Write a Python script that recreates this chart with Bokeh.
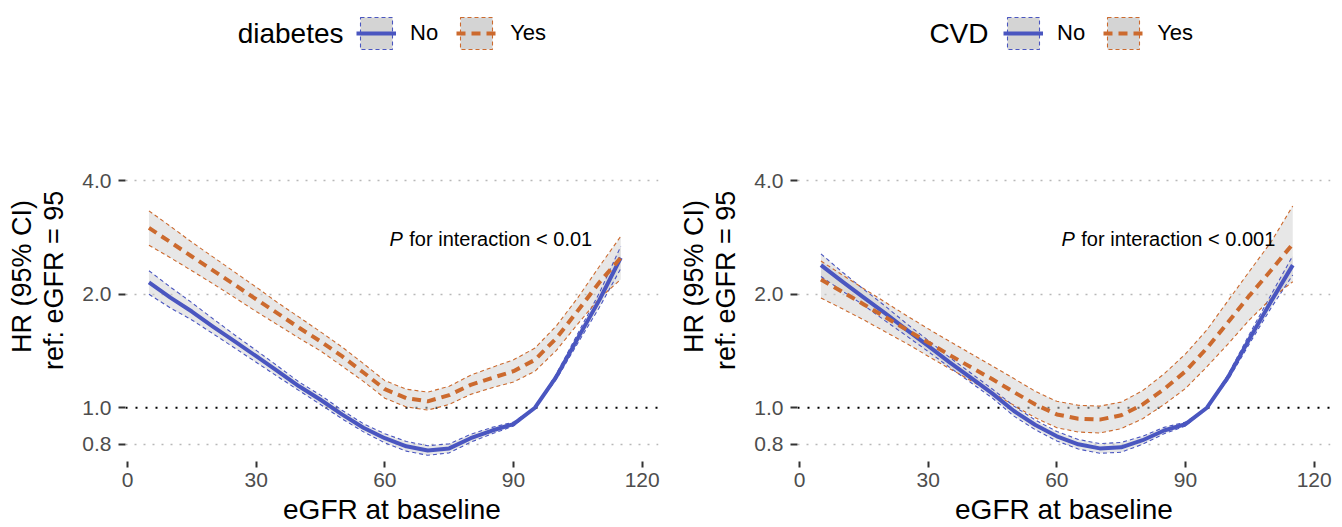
from bokeh.plotting import figure
from bokeh.models import (Range1d, FixedTicker, Span, Label, Legend, LegendItem,
                          ColumnDataSource, PrintfTickFormatter, Title)
from bokeh.layouts import row
from bokeh.embed import file_html
from bokeh.resources import INLINE

# ---------------- data ----------------
egfr = [5, 10, 15, 20, 25, 30, 35, 40, 45, 50, 55, 60,
        65, 70, 75, 80, 85, 90, 95, 100, 105, 110, 115]

# diabetes = No
dm_no_hr = [2.15, 1.96, 1.80, 1.64, 1.50, 1.37, 1.25, 1.14, 1.05, 0.96, 0.885, 0.83,
            0.79, 0.77, 0.78, 0.83, 0.87, 0.905, 1.0, 1.21, 1.53, 1.93, 2.50]
dm_no_lo = [2.00, 1.84, 1.71, 1.57, 1.44, 1.32, 1.21, 1.11, 1.02, 0.935, 0.863, 0.807,
            0.767, 0.748, 0.759, 0.81, 0.853, 0.894, 1.0, 1.19, 1.485, 1.845, 2.34]
dm_no_hi = [2.31, 2.09, 1.90, 1.72, 1.56, 1.42, 1.29, 1.17, 1.08, 0.985, 0.907, 0.853,
            0.814, 0.793, 0.802, 0.85, 0.887, 0.916, 1.0, 1.23, 1.575, 2.015, 2.68]
# diabetes = Yes
dm_yes_hr = [3.00, 2.75, 2.52, 2.31, 2.12, 1.94, 1.78, 1.63, 1.50, 1.37, 1.24, 1.12,
             1.06, 1.04, 1.08, 1.15, 1.20, 1.25, 1.34, 1.53, 1.81, 2.15, 2.50]
dm_yes_lo = [2.70, 2.50, 2.31, 2.13, 1.96, 1.80, 1.66, 1.53, 1.415, 1.29, 1.175, 1.06,
             1.005, 0.986, 1.02, 1.085, 1.13, 1.17, 1.25, 1.42, 1.67, 1.95, 2.19]
dm_yes_hi = [3.33, 3.03, 2.75, 2.51, 2.29, 2.09, 1.90, 1.74, 1.59, 1.45, 1.31, 1.18,
             1.12, 1.10, 1.14, 1.22, 1.28, 1.34, 1.44, 1.65, 1.96, 2.37, 2.85]

# CVD = No
cvd_no_hr = [2.39, 2.16, 1.96, 1.78, 1.61, 1.46, 1.32, 1.20, 1.09, 0.98, 0.90, 0.84,
             0.80, 0.78, 0.785, 0.82, 0.87, 0.905, 1.0, 1.21, 1.53, 1.92, 2.39]
cvd_no_lo = [2.23, 2.04, 1.87, 1.70, 1.55, 1.41, 1.28, 1.165, 1.06, 0.95, 0.874, 0.816,
             0.777, 0.757, 0.762, 0.80, 0.853, 0.894, 1.0, 1.19, 1.485, 1.845, 2.25]
cvd_no_hi = [2.56, 2.29, 2.06, 1.86, 1.67, 1.51, 1.36, 1.235, 1.12, 1.01, 0.927, 0.865,
             0.824, 0.803, 0.809, 0.84, 0.887, 0.916, 1.0, 1.23, 1.575, 2.00, 2.53]
# CVD = Yes
cvd_yes_hr = [2.19, 2.03, 1.88, 1.74, 1.61, 1.49, 1.38, 1.28, 1.19, 1.10, 1.02, 0.96,
              0.935, 0.93, 0.955, 1.02, 1.12, 1.25, 1.44, 1.69, 1.99, 2.32, 2.72]
cvd_yes_lo = [1.955, 1.83, 1.71, 1.59, 1.48, 1.37, 1.27, 1.18, 1.095, 1.015, 0.94, 0.885,
              0.862, 0.857, 0.88, 0.935, 1.02, 1.125, 1.285, 1.48, 1.715, 1.95, 2.16]
cvd_yes_hi = [2.45, 2.25, 2.07, 1.905, 1.755, 1.62, 1.50, 1.39, 1.29, 1.195, 1.105, 1.04,
              1.015, 1.01, 1.035, 1.11, 1.23, 1.39, 1.61, 1.93, 2.31, 2.76, 3.43]

group_labels = ["No", "Yes"]
x_ticks = [0, 30, 60, 90, 120]
y_ticks = [0.8, 1.0, 2.0, 4.0]
grid_ticks = [0.8, 2.0, 4.0]
ref_hr = 1.0

FONT = "Liberation Sans"
BLUE = "#4a56c0"
ORANGE = "#cc6a2e"
BAND = "#cfcfcf"
KEY_FILL = "#d4d4d4"


def make_panel(var_name, no, yes, ptext, border_left, border_right, legend_x, title_x):
    p = figure(width=671, height=527, title=None,
               x_range=Range1d(-0.47, 123.8), y_range=Range1d(0.72, 12.04),
               y_axis_type="log", output_backend="svg", toolbar_location=None,
               min_border_left=border_left, min_border_right=border_right,
               min_border_top=0, min_border_bottom=66)
    p.outline_line_color = None
    p.background_fill_color = "white"
    p.border_fill_color = "white"

    # grid
    p.xgrid.visible = False
    p.ygrid.ticker = FixedTicker(ticks=grid_ticks)
    p.ygrid.grid_line_color = "#b8b8b8"
    p.ygrid.grid_line_width = 1.6
    p.ygrid.grid_line_dash = "2 7"
    p.add_layout(Span(location=ref_hr, dimension="width", line_color="black",
                      line_width=2, line_dash="2 8", level="underlay"))

    # axes
    for ax in (p.xaxis[0], p.yaxis[0]):
        ax.axis_line_color = None
        ax.minor_tick_line_color = None
        ax.major_tick_in = 0
        ax.major_tick_line_color = "#333333"
        ax.major_tick_line_width = 2
        ax.major_label_text_font = FONT
        ax.major_label_text_font_size = "21px"
        ax.major_label_text_color = "#4d4d4d"
    p.xaxis.ticker = FixedTicker(ticks=x_ticks)
    p.xaxis.major_tick_out = 6
    p.xaxis.major_label_standoff = 5
    p.xaxis.axis_label = "eGFR at baseline"
    p.xaxis.axis_label_text_font = FONT
    p.xaxis.axis_label_text_font_size = "28px"
    p.xaxis.axis_label_text_font_style = "normal"
    p.xaxis.axis_label_text_color = "black"
    p.xaxis.axis_label_standoff = 4
    p.yaxis.ticker = FixedTicker(ticks=y_ticks)
    p.yaxis.formatter = PrintfTickFormatter(format="%.1f")
    p.yaxis.major_tick_out = 7
    p.yaxis.major_label_standoff = 7
    p.yaxis.axis_label = " "
    p.yaxis.axis_label_text_font_size = "1px"
    p.yaxis.axis_label_standoff = 7

    # y-axis title (two lines, nearest first)
    p.add_layout(Title(text="ref: eGFR = 95", align="left", offset=91.5, standoff=0,
                       text_font=FONT, text_font_size="27px", text_font_style="normal",
                       text_color="black"), "left")
    p.add_layout(Title(text="HR (95% CI)", align="left", offset=108.5, standoff=0,
                       text_font=FONT, text_font_size="27px", text_font_style="normal",
                       text_color="black"), "left")

    # ribbons
    srcs = []
    for d in (no, yes):
        srcs.append(ColumnDataSource(dict(x=egfr, hr=d[0], lo=d[1], hi=d[2])))
    for s in srcs:
        p.varea(x="x", y1="lo", y2="hi", source=s, fill_color=BAND, fill_alpha=0.5)
    for s, c in zip(srcs, (BLUE, ORANGE)):
        p.line(x="x", y="lo", source=s, line_color=c, line_width=1.1, line_dash="4 3")
        p.line(x="x", y="hi", source=s, line_color=c, line_width=1.1, line_dash="4 3")
    r_no = p.line(x="x", y="hr", source=srcs[0], line_color=BLUE, line_width=4,
                  line_join="round")
    r_yes = p.line(x="x", y="hr", source=srcs[1], line_color=ORANGE, line_width=4,
                   line_dash="9 6", line_join="round")

    # legend key boxes: ribbon polygons, muted (invisible) in the plot area
    keys = []
    for d, c in zip((no, yes), (BLUE, ORANGE)):
        poly = ColumnDataSource(dict(x=egfr + egfr[::-1], y=d[2] + d[1][::-1]))
        k = p.patch(x="x", y="y", source=poly, fill_color=KEY_FILL, line_color=c,
                    line_width=1.1, line_dash="4 3",
                    muted_fill_alpha=0, muted_line_alpha=0)
        k.muted = True
        keys.append(k)
    legend = Legend(items=[LegendItem(label=group_labels[0], renderers=[keys[0], r_no]),
                           LegendItem(label=group_labels[1], renderers=[keys[1], r_yes])],
                    orientation="horizontal", location=(legend_x, 408),
                    glyph_width=40, glyph_height=40, label_standoff=14, spacing=18,
                    padding=0, margin=0, border_line_color=None,
                    background_fill_alpha=0, label_text_font=FONT,
                    label_text_font_size="22px", label_text_color="black")
    p.add_layout(legend)
    p.add_layout(Label(x=title_x, y=428, x_units="screen", y_units="screen",
                       text=var_name, text_align="right", text_baseline="alphabetic",
                       text_font=FONT, text_font_size="28px", text_color="black"))

    # interaction annotation
    p.add_layout(Label(x=61.1, y=2.81, text="P", text_font_style="italic",
                       text_align="left", text_baseline="alphabetic", text_font=FONT,
                       text_font_size="20px", text_color="black"))
    p.add_layout(Label(x=65.7, y=2.81, text=ptext, text_align="left",
                       text_baseline="alphabetic", text_font=FONT,
                       text_font_size="20px", text_color="black"))
    return p


p1 = make_panel("diabetes", (dm_no_hr, dm_no_lo, dm_no_hi),
                (dm_yes_hr, dm_yes_lo, dm_yes_hi),
                "for interaction < 0.01", 125, 13, 231, 218)
p2 = make_panel("CVD", (cvd_no_hr, cvd_no_lo, cvd_no_hi),
                (cvd_yes_hr, cvd_yes_lo, cvd_yes_hi),
                "for interaction < 0.001", 126, 12, 206, 191)

layout = row(p1, p2)
open("out.html", "w").write(file_html(layout, INLINE))
